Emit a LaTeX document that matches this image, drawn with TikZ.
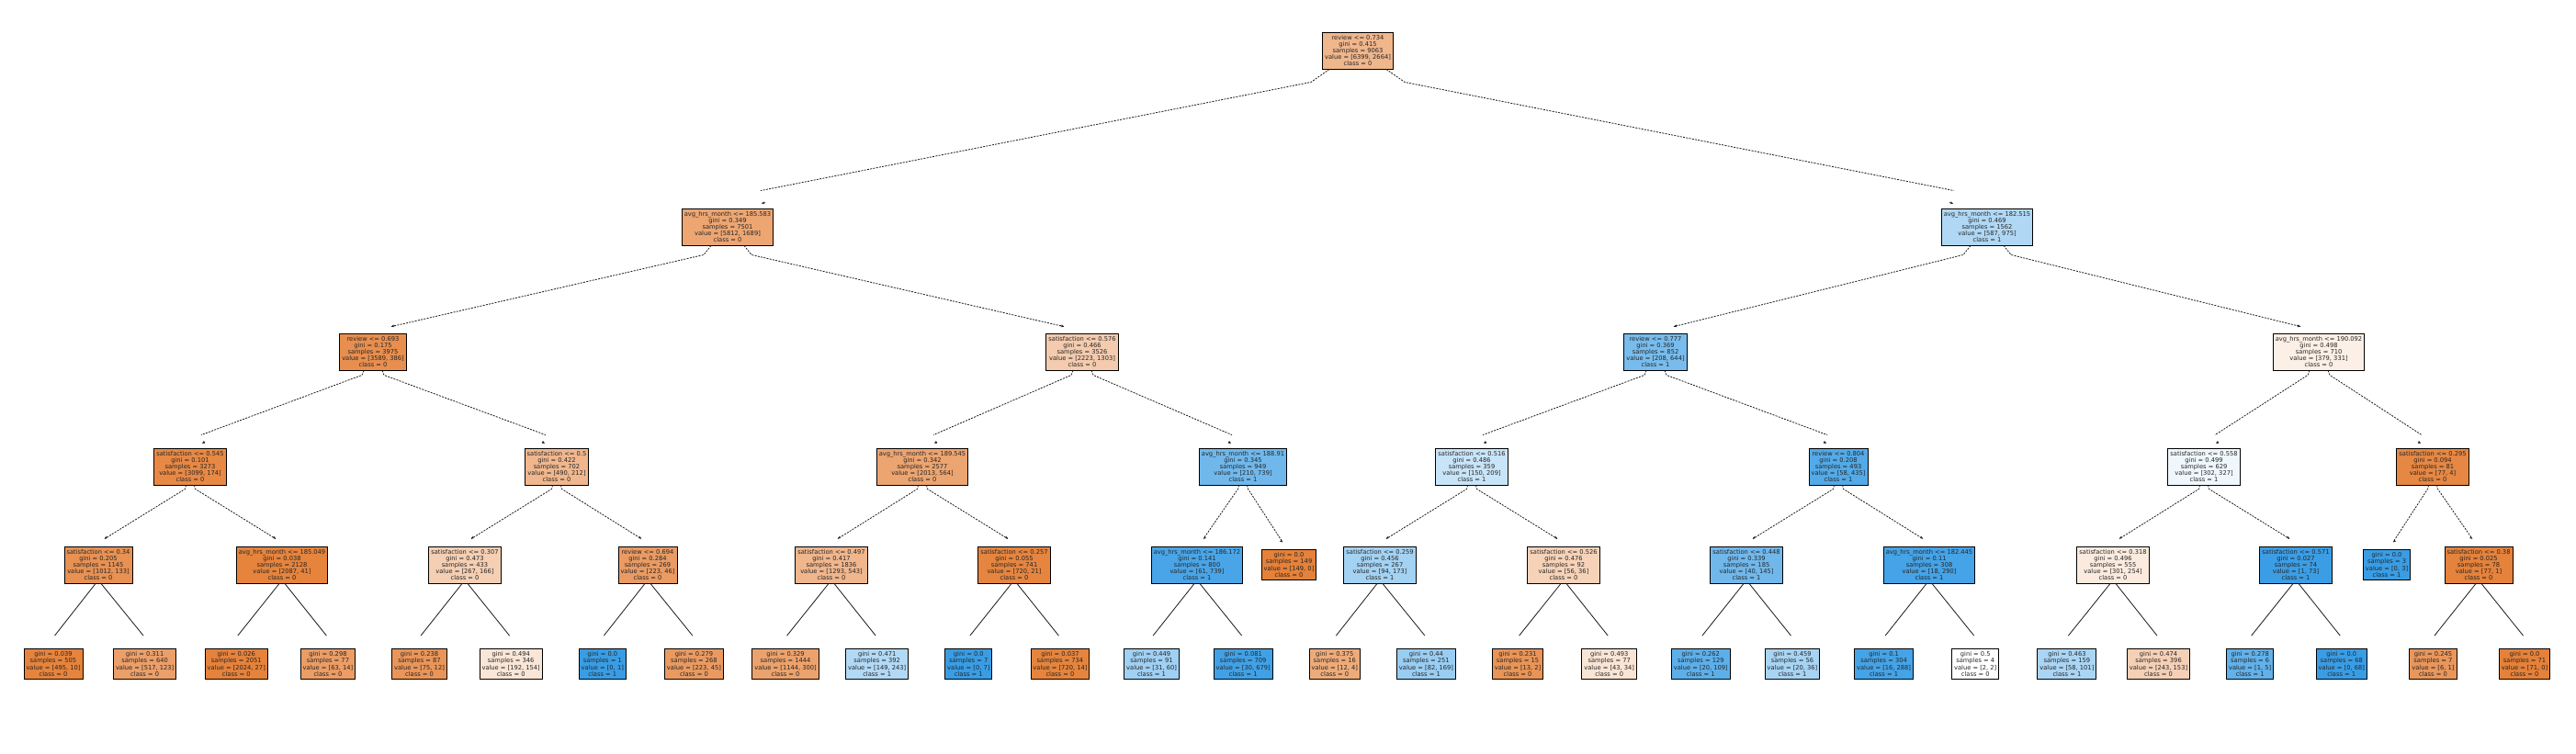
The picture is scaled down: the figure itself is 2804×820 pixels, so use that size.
\documentclass[tikz,border=0pt]{standalone}
\usepackage{fontspec}
\setmainfont{DejaVu Sans}
\usetikzlibrary{arrows.meta}
\definecolor{cl0}{RGB}{229,129,57}
\definecolor{cl1}{RGB}{57,157,229}
\tikzset{
  tbox/.style={draw=black, line width=0.9pt, align=center, inner xsep=2.5pt, inner ysep=3pt,
    text=black!85, font=\fontsize{6.7}{7.2}\selectfont},
  zero/.style={tbox, fill=cl0!#1!white},
  one/.style={tbox, fill=cl1!#1!white},
  link/.style={draw=black!90, line width=0.8pt, dash pattern=on 2pt off 1.3pt},
  linktip/.style={draw=black!90, line width=0.8pt, -{Stealth[length=3pt,width=2.8pt]}}
}

\begin{document}
\begin{tikzpicture}[x=1pt,y=-1pt]
\useasboundingbox (0,0) rectangle (2804,820);
% root and first split
\node[zero=58] at (1478,55) (r) {review <= 0.734\\gini = 0.415\\samples = 9063\\value = [6399, 2664]\\class = 0};
\node[zero=71] at (792,247) (a1) {avg\_hrs\_month <= 185.583\\gini = 0.349\\samples = 7501\\value = [5812, 1689]\\class = 0};
\node[one=40] at (2163,247) (a2) {avg\_hrs\_month <= 182.515\\gini = 0.469\\samples = 1562\\value = [587, 975]\\class = 1};
% depth 2
\node[zero=89] at (406,383) (b1) {review <= 0.693\\gini = 0.175\\samples = 3975\\value = [3589, 386]\\class = 0};
\node[zero=41] at (1178,383) (b2) {satisfaction <= 0.576\\gini = 0.466\\samples = 3526\\value = [2223, 1303]\\class = 0};
\node[one=68] at (1802,383) (b3) {review <= 0.777\\gini = 0.369\\samples = 852\\value = [208, 644]\\class = 1};
\node[zero=13] at (2524,383) (b4) {avg\_hrs\_month <= 190.092\\gini = 0.498\\samples = 710\\value = [379, 331]\\class = 0};
% depth 3
\node[zero=94] at (207,508) (c1) {satisfaction <= 0.545\\gini = 0.101\\samples = 3273\\value = [3099, 174]\\class = 0};
\node[zero=57] at (606,508) (c2) {satisfaction <= 0.5\\gini = 0.422\\samples = 702\\value = [490, 212]\\class = 0};
\node[zero=72] at (1004,508) (c3) {avg\_hrs\_month <= 189.545\\gini = 0.342\\samples = 2577\\value = [2013, 564]\\class = 0};
\node[one=72] at (1353,508) (c4) {avg\_hrs\_month <= 188.91\\gini = 0.345\\samples = 949\\value = [210, 739]\\class = 1};
\node[one=28] at (1602,508) (c5) {satisfaction <= 0.516\\gini = 0.486\\samples = 359\\value = [150, 209]\\class = 1};
\node[one=87] at (2001,508) (c6) {review <= 0.804\\gini = 0.208\\samples = 493\\value = [58, 435]\\class = 1};
\node[one=8] at (2399,508) (c7) {satisfaction <= 0.558\\gini = 0.499\\samples = 629\\value = [302, 327]\\class = 1};
\node[zero=95] at (2648,508) (c8) {satisfaction <= 0.295\\gini = 0.094\\samples = 81\\value = [77, 4]\\class = 0};
% depth 4
\node[zero=87] at (107,615) (d1) {satisfaction <= 0.34\\gini = 0.205\\samples = 1145\\value = [1012, 133]\\class = 0};
\node[zero=98] at (307,615) (d2) {avg\_hrs\_month <= 185.049\\gini = 0.038\\samples = 2128\\value = [2087, 41]\\class = 0};
\node[zero=38] at (506,615) (d3) {satisfaction <= 0.307\\gini = 0.473\\samples = 433\\value = [267, 166]\\class = 0};
\node[zero=79] at (705,615) (d4) {review <= 0.694\\gini = 0.284\\samples = 269\\value = [223, 46]\\class = 0};
\node[zero=58] at (905,615) (d5) {satisfaction <= 0.497\\gini = 0.417\\samples = 1836\\value = [1293, 543]\\class = 0};
\node[zero=97] at (1104,615) (d6) {satisfaction <= 0.257\\gini = 0.055\\samples = 741\\value = [720, 21]\\class = 0};
\node[one=92] at (1303,615) (d7) {avg\_hrs\_month <= 186.172\\gini = 0.141\\samples = 800\\value = [61, 739]\\class = 1};
\node[zero=100] at (1403,615) (d8) {gini = 0.0\\samples = 149\\value = [149, 0]\\class = 0};
\node[one=46] at (1502,615) (d9) {satisfaction <= 0.259\\gini = 0.456\\samples = 267\\value = [94, 173]\\class = 1};
\node[zero=36] at (1702,615) (d10) {satisfaction <= 0.526\\gini = 0.476\\samples = 92\\value = [56, 36]\\class = 0};
\node[one=72] at (1901,615) (d11) {satisfaction <= 0.448\\gini = 0.339\\samples = 185\\value = [40, 145]\\class = 1};
\node[one=94] at (2100,615) (d12) {avg\_hrs\_month <= 182.445\\gini = 0.11\\samples = 308\\value = [18, 290]\\class = 1};
\node[zero=16] at (2300,615) (d13) {satisfaction <= 0.318\\gini = 0.496\\samples = 555\\value = [301, 254]\\class = 0};
\node[one=99] at (2499,615) (d14) {satisfaction <= 0.571\\gini = 0.027\\samples = 74\\value = [1, 73]\\class = 1};
\node[one=100] at (2598,615) (d15) {gini = 0.0\\samples = 3\\value = [0, 3]\\class = 1};
\node[zero=99] at (2698,615) (d16) {satisfaction <= 0.38\\gini = 0.025\\samples = 78\\value = [77, 1]\\class = 0};
% leaves, one slot every 99.63 px
\foreach \k/\g/\n/\va/\vb/\cl/\pc in {0/0.039/505/495/10/0/98, 1/0.311/640/517/123/0/76,
    2/0.026/2051/2024/27/0/99, 3/0.298/77/63/14/0/78, 4/0.238/87/75/12/0/84,
    5/0.494/346/192/154/0/20, 6/0.0/1/0/1/1/100, 7/0.279/268/223/45/0/80,
    8/0.329/1444/1144/300/0/74, 9/0.471/392/149/243/1/39, 10/0.0/7/0/7/1/100,
    11/0.037/734/720/14/0/98, 12/0.449/91/31/60/1/48, 13/0.081/709/30/679/1/96,
    14/0.375/16/12/4/0/67, 15/0.44/251/82/169/1/51, 16/0.231/15/13/2/0/85,
    17/0.493/77/43/34/0/21, 18/0.262/129/20/109/1/82, 19/0.459/56/20/36/1/44,
    20/0.1/304/16/288/1/94, 21/0.5/4/2/2/0/0, 22/0.463/159/58/101/1/43,
    23/0.474/396/243/153/0/37, 24/0.278/6/1/5/1/80, 25/0.0/68/0/68/1/100,
    26/0.245/7/6/1/0/83, 27/0.0/71/71/0/0/100}
  \node[tbox, fill=cl\cl!\pc!white] at (58+99.63*\k,723) (e\k) {gini = \g\\samples = \n\\value = [\va, \vb]\\class = \cl};

% connectors
\foreach \p/\c/\s in {r/a1/-1, r/a2/1}{
  \draw[link] ([xshift=\s*31pt]\p.south) -- ++(\s*20,14) -- ([xshift=\s*-36pt,yshift=19pt]\c.north);
  \draw[linktip] ([xshift=\s*-41pt,yshift=6pt]\c.north) -- ([xshift=\s*-37pt,yshift=5pt]\c.north);
}
\foreach \p/\c/\s in {a1/b1/-1, a1/b2/1, a2/b3/-1, a2/b4/1}{
  \draw[link] ([xshift=\s*18pt]\p.south) -- ++(\s*8,10) -- ([xshift=\s*-20pt,yshift=7pt]\c.north);
  \draw[linktip] ([xshift=\s*-24pt,yshift=8pt]\c.north) -- ([xshift=\s*-20pt,yshift=7pt]\c.north);
}
\foreach \p/\c/\s in {b1/c1/-1, b1/c2/1, b2/c3/-1, b2/c4/1, b3/c5/-1, b3/c6/1, b4/c7/-1, b4/c8/1}{
  \draw[link] ([xshift=\s*10pt]\p.south) -- ++(\s*2,5) -- ([xshift=\s*-12pt,yshift=14pt]\c.north);
  \draw[linktip] ([xshift=\s*-16pt,yshift=6.5pt]\c.north) -- ([xshift=\s*-13pt,yshift=5pt]\c.north);
}
\foreach \p/\c/\s in {c1/d1/-1, c1/d2/1, c2/d3/-1, c2/d4/1, c3/d5/-1, c3/d6/1, c4/d7/-1, c4/d8/1,
    c5/d9/-1, c5/d10/1, c6/d11/-1, c6/d12/1, c7/d13/-1, c7/d14/1, c8/d15/-1, c8/d16/1}{
  \draw[link] ([xshift=\s*4.5pt]\p.south) -- ++(\s*1,4) -- ([xshift=\s*-7pt,yshift=8pt]\c.north);
  \draw[linktip] ([xshift=\s*-9pt,yshift=9.5pt]\c.north) -- ([xshift=\s*-7pt,yshift=8pt]\c.north);
}
\foreach \p/\a/\b in {d1/0/1, d2/2/3, d3/4/5, d4/6/7, d5/8/9, d6/10/11, d7/12/13, d9/14/15,
    d10/16/17, d11/18/19, d12/20/21, d13/22/23, d14/24/25, d16/26/27}{
  \draw[link, solid] ([xshift=-3pt]\p.south) -- ([xshift=1.5pt,yshift=14pt]e\a.north);
  \draw[link, solid] ([xshift=3pt]\p.south) -- ([xshift=-1.5pt,yshift=14pt]e\b.north);
}
\end{tikzpicture}
\end{document}
